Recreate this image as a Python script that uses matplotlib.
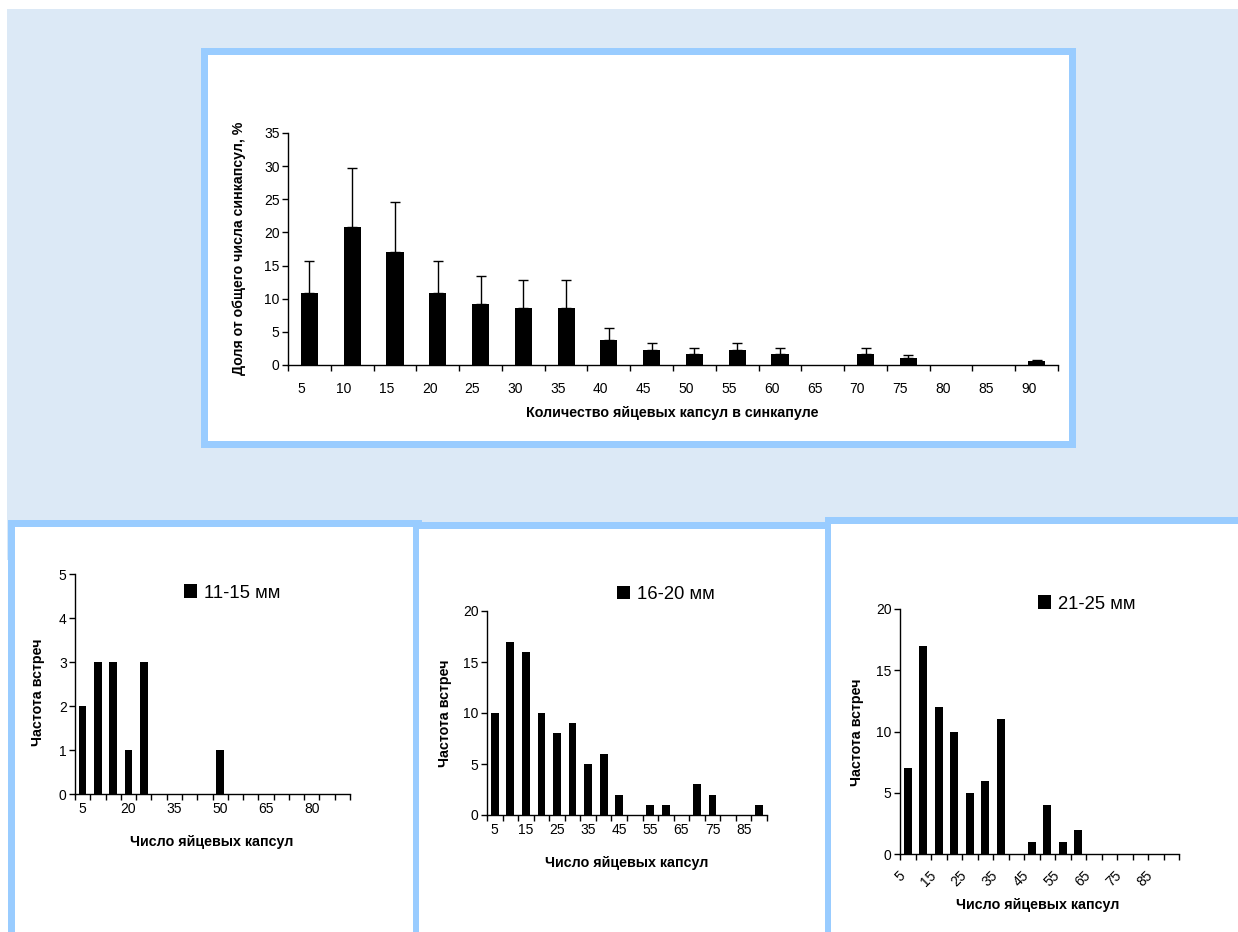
import numpy as np
import matplotlib
matplotlib.use("Agg")
import matplotlib.pyplot as plt
from matplotlib.patches import Rectangle
from matplotlib.transforms import ScaledTranslation

plt.rcParams['font.family'] = ['Liberation Sans', 'DejaVu Sans']

# Категории: число яйцевых капсул
kategorii = [5, 10, 15, 20, 25, 30, 35, 40, 45, 50, 55, 60, 65, 70, 75, 80, 85, 90]

# Доля от общего числа синкапсул, % и верхняя ошибка
dolya = [10.8, 20.8, 17.1, 10.8, 9.2, 8.6, 8.6, 3.7, 2.2, 1.6, 2.2, 1.6, 0, 1.6, 1.1, 0, 0, 0.6]
oshibka = [4.9, 8.9, 7.5, 4.9, 4.2, 4.2, 4.2, 1.9, 1.1, 0.9, 1.1, 0.9, 0, 0.9, 0.4, 0, 0, 0.2]

# Частота встреч по размерным группам
chastota_11_15 = [2, 3, 3, 1, 3, 0, 0, 0, 0, 1, 0, 0, 0, 0, 0, 0, 0, 0]
chastota_16_20 = [10, 17, 16, 10, 8, 9, 5, 6, 2, 0, 1, 1, 0, 3, 2, 0, 0, 1]
chastota_21_25 = [7, 17, 12, 10, 5, 6, 11, 0, 1, 4, 1, 2, 0, 0, 0, 0, 0, 0]

W, H = 1238, 932
fig = plt.figure(figsize=(W / 100, H / 100), dpi=100)
fig.patch.set_facecolor('white')

fon = '#dce9f6'
ramka = '#99ccff'


def rect(x0, y0, x1, y1, color):
    # прямоугольник в пикселях (от верхнего левого угла)
    r = Rectangle((x0 / W, 1 - y1 / H), (x1 - x0) / W, (y1 - y0) / H,
                  transform=fig.transFigure, facecolor=color, edgecolor='none', zorder=-5)
    fig.add_artist(r)


def osi(x0, y0, x1, y1):
    return fig.add_axes([x0 / W, 1 - y1 / H, (x1 - x0) / W, (y1 - y0) / H])


# фон и рамки
rect(7, 9, 1238, 560, fon)
rect(201, 48, 1076, 448, ramka)
rect(208, 55, 1069, 441, 'white')
rect(8, 520, 422, 932, ramka)
rect(15, 527, 413, 932, 'white')
rect(413, 522, 831, 932, ramka)
rect(419, 529, 825, 932, 'white')
rect(825, 517, 1238, 932, ramka)
rect(831, 524, 1238, 932, 'white')

x = np.arange(len(kategorii))


def oformit(ax, ymax, ystep, fs):
    ax.set_facecolor('none')
    for s in ['top', 'right']:
        ax.spines[s].set_visible(False)
    for s in ['left', 'bottom']:
        ax.spines[s].set_color('black')
        ax.spines[s].set_linewidth(1)
    ax.set_xlim(-0.5, len(kategorii) - 0.5)
    ax.set_ylim(0, ymax)
    ax.set_yticks(np.arange(0, ymax + 0.1, ystep))
    ax.set_xticks(np.arange(-0.5, len(kategorii), 1), minor=True)
    ax.tick_params(axis='x', which='minor', length=4, width=1, direction='out', color='black')
    ax.tick_params(axis='y', length=4, width=1, direction='out', labelsize=fs, pad=2)


# ---- верхний график ----
ax0 = osi(288, 133, 1058, 365)
ax0.bar(x, dolya, width=0.4, color='black')
m = np.array(oshibka) > 0
ax0.errorbar(x[m], np.array(dolya)[m], yerr=[np.zeros(m.sum()), np.array(oshibka)[m]],
             fmt='none', ecolor='black', elinewidth=1, capsize=3.5, capthick=1)
oformit(ax0, 35, 5, 10)
ax0.set_xticks(x)
ax0.set_xticklabels([str(k) for k in kategorii])
ax0.tick_params(axis='x', which='major', length=0, labelsize=10, pad=12)
for lab in ax0.get_xticklabels():
    lab.set_transform(lab.get_transform() + ScaledTranslation(-0.08, 0, fig.dpi_scale_trans))
ax0.set_ylabel('Доля от общего числа синкапсул, %', fontsize=10.2, fontweight='bold', va='center')
ax0.yaxis.set_label_coords(-0.064, 0.504)
ax0.set_xlabel('Количество яйцевых капсул в синкапуле', fontsize=10.3, fontweight='bold', va='center')
ax0.xaxis.set_label_coords(0.499, -0.207)


def nizhniy(box, data, ymax, ystep, shag, label, legxy, ylc, xlc, rot=False):
    ax = osi(*box)
    b = ax.bar(x, data, width=0.5, color='black', label=label)
    oformit(ax, ymax, ystep, 10)
    ax.set_xticks(x[::shag])
    if rot:
        ax.set_xticklabels([str(k) for k in kategorii[::shag]], rotation=45,
                           ha='right', va='center', rotation_mode='anchor')
        ax.tick_params(axis='x', which='major', length=0, labelsize=10, pad=14)
        for lab in ax.get_xticklabels():
            lab.set_transform(lab.get_transform() + ScaledTranslation(-0.05, 0, fig.dpi_scale_trans))
    else:
        ax.set_xticklabels([str(k) for k in kategorii[::shag]])
        ax.tick_params(axis='x', which='major', length=0, labelsize=10, pad=6)
    ax.set_ylabel('Частота встреч', fontsize=10.3, fontweight='bold', va='center')
    ax.yaxis.set_label_coords(*ylc)
    ax.set_xlabel('Число яйцевых капсул', fontsize=10.3, fontweight='bold', va='center')
    ax.xaxis.set_label_coords(*xlc)
    ax.legend(handles=[b], loc='center left', bbox_to_anchor=(legxy[0] / W, 1 - legxy[1] / H),
              bbox_transform=fig.transFigure, frameon=False, fontsize=13.3,
              handlelength=0.72, handleheight=0.72, handletextpad=0.35,
              borderpad=0, borderaxespad=0)
    return ax


nizhniy((75, 574, 350, 794), chastota_11_15, 5, 1, 3, '11-15 мм', (184, 593),
        (-0.1345, 0.4636), (0.498, -0.218))
nizhniy((487, 611, 767, 815), chastota_16_20, 20, 5, 2, '16-20 мм', (617, 594.5),
        (-0.15, 0.5), (0.5, -0.235))
nizhniy((900, 609, 1179, 854), chastota_21_25, 20, 5, 2, '21-25 мм', (1038, 604),
        (-0.154, 0.498), (0.495, -0.208), rot=True)

fig.savefig('out.png', dpi=100)
